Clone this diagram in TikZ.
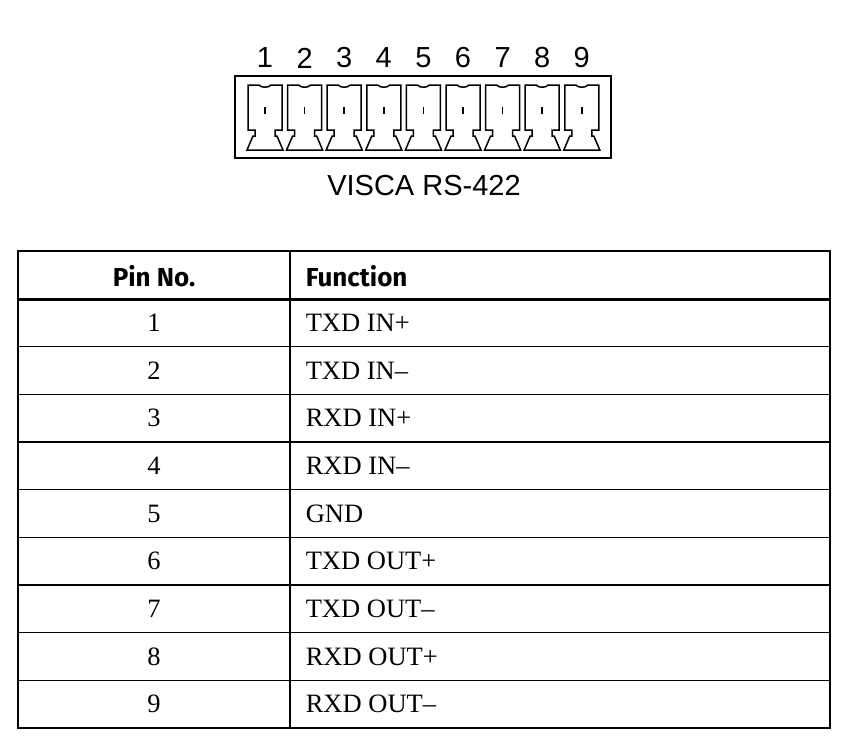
\documentclass[tikz,border=0pt]{standalone}
\usepackage{fontspec}
\setmainfont{Liberation Serif}
\newfontfamily\lsans{Liberation Sans}
\newfontfamily\fsans{Fira Sans}
\begin{document}
\begin{tikzpicture}[x=1pt,y=-1pt,line width=1.6pt,
  lab/.style={font=\lsans\fontsize{29}{32}\selectfont,inner sep=0},
  hd/.style={font=\fsans\bfseries\fontsize{26}{30}\selectfont,inner sep=0},
  cell/.style={font=\fontsize{26.5}{30}\selectfont,inner sep=0}]
\useasboundingbox (0,0) rectangle (844,744);
\draw[line width=2pt] (235,76) rectangle (611,158);
\foreach \i in {1,...,9}{
  \pgfmathsetmacro\cx{265+(\i-1)*39.6}
  \begin{scope}[shift={(\cx-17,85)}]
   \draw[line width=1.5pt,line join=miter] (0,0) -- (11,0) .. controls (13,3) and (21,3) .. (23,0) -- (34,0) -- (34,45)
     -- (27,45) -- (27,51) -- (29,51) -- (35,65) -- (-1,65) -- (5,51) -- (7,51) -- (7,45) -- (0,45) -- cycle;
   \draw[line width=1.5pt] (17,22) -- (17,29);
  \end{scope}
  \node[lab] (n\i) at (\cx,58) {\i};
}
\node[lab] (title) at (424,186) {VISCA RS-422};
% table
\draw[line width=1.5pt] (18,251) rectangle (830,728);
\draw[line width=1.5pt] (290,251) -- (290,728);
\draw[line width=3pt] (18,299) -- (830,299);
\node[hd] (h1) at (154,276) {Pin No.};
\node[hd,anchor=west] (h2) at (305,276) {Function};
\foreach \i/\f [count=\k] in {1/TXD IN+,2/TXD IN--,3/RXD IN+,4/RXD IN--,5/GND,6/TXD OUT+,7/TXD OUT--,8/RXD OUT+,9/RXD OUT--}{
  \pgfmathsetmacro\yy{299+\k*47.67}
  \ifnum\k<9 \draw[line width=1.5pt] (18,\yy) -- (830,\yy);\fi
  \node[cell] (p\i) at (154,\yy-23.8) {\i};
  \node[cell,anchor=west] (f\i) at (305,\yy-23.8) {\f};
}
\end{tikzpicture}
\end{document}
